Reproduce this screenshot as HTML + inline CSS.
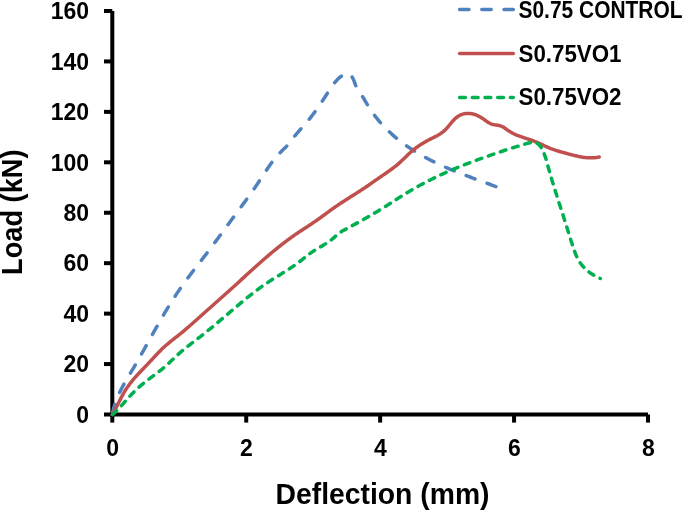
<!DOCTYPE html>
<html><head><meta charset="utf-8"><style>
html,body{margin:0;padding:0;background:#fff;overflow:hidden;}
svg{display:block;will-change:transform;filter:blur(0.4px);}
text{font-family:"Liberation Sans",sans-serif;font-weight:bold;fill:#000;}
</style></head><body>
<svg width="685" height="510" viewBox="0 0 685 510">
<g stroke="#000" stroke-width="4.0" fill="none">
<line x1="112.3" y1="11" x2="112.3" y2="416.5"/>
<line x1="110.3" y1="414.5" x2="648" y2="414.5"/>
<line x1="104" y1="414.50" x2="112.30" y2="414.50"/><line x1="104" y1="364.06" x2="112.30" y2="364.06"/><line x1="104" y1="313.62" x2="112.30" y2="313.62"/><line x1="104" y1="263.19" x2="112.30" y2="263.19"/><line x1="104" y1="212.75" x2="112.30" y2="212.75"/><line x1="104" y1="162.31" x2="112.30" y2="162.31"/><line x1="104" y1="111.87" x2="112.30" y2="111.87"/><line x1="104" y1="61.43" x2="112.30" y2="61.43"/><line x1="104" y1="11.00" x2="112.30" y2="11.00"/><line x1="112.30" y1="414.50" x2="112.30" y2="422.6"/><line x1="246.22" y1="414.50" x2="246.22" y2="422.6"/><line x1="380.14" y1="414.50" x2="380.14" y2="422.6"/><line x1="514.06" y1="414.50" x2="514.06" y2="422.6"/><line x1="647.98" y1="414.50" x2="647.98" y2="422.6"/>
</g>
<g fill="none" stroke-width="3.5" stroke-linejoin="round" stroke-linecap="round">
<path d="M112.40,414.50 L112.63,413.02 L112.90,411.54 L113.21,410.07 L113.56,408.61 L113.93,407.16 L114.35,405.71 L114.79,404.28 L115.26,402.85 L115.76,401.44 L116.29,400.03 L116.84,398.64 L117.42,397.25 L118.01,395.87 L118.63,394.50 L119.27,393.14 L119.92,391.79 L120.59,390.45 L121.28,389.11 L121.98,387.79 L122.69,386.46 L123.41,385.15 L124.15,383.84 L124.89,382.53 L125.64,381.23 L126.39,379.93 L127.15,378.64 L127.92,377.35 L128.69,376.06 L129.46,374.77 L130.23,373.48 L131.00,372.19 L131.77,370.90 L132.54,369.61 L133.30,368.32 L134.06,367.03 L134.82,365.73 L135.58,364.43 L136.33,363.14 L137.08,361.83 L137.83,360.53 L138.57,359.23 L139.31,357.92 L140.06,356.62 L140.79,355.31 L141.53,354.00 L142.27,352.69 L143.00,351.39 L143.74,350.08 L144.47,348.76 L145.20,347.45 L145.93,346.14 L146.66,344.83 L147.39,343.52 L148.12,342.21 L148.85,340.89 L149.58,339.58 L150.31,338.27 L151.03,336.96 L151.76,335.64 L152.50,334.33 L153.23,333.02 L153.96,331.71 L154.69,330.40 L155.43,329.09 L156.16,327.78 L156.90,326.48 L157.64,325.17 L158.38,323.86 L159.13,322.56 L159.87,321.26 L160.62,319.95 L161.37,318.65 L162.12,317.36 L162.88,316.06 L163.64,314.76 L164.40,313.47 L165.17,312.18 L165.94,310.89 L166.71,309.60 L167.48,308.32 L168.26,307.03 L169.05,305.75 L169.84,304.47 L170.63,303.20 L171.42,301.93 L172.23,300.66 L173.03,299.39 L173.84,298.13 L174.66,296.87 L175.48,295.61 L176.30,294.35 L177.14,293.10 L177.97,291.86 L178.82,290.62 L179.66,289.38 L180.52,288.14 L181.38,286.91 L182.25,285.69 L183.12,284.46 L183.99,283.24 L184.87,282.03 L185.76,280.82 L186.65,279.61 L187.54,278.40 L188.44,277.20 L189.34,275.99 L190.24,274.80 L191.15,273.60 L192.06,272.40 L192.97,271.21 L193.88,270.02 L194.79,268.83 L195.71,267.64 L196.63,266.45 L197.54,265.26 L198.46,264.07 L199.38,262.88 L200.30,261.70 L201.22,260.51 L202.14,259.32 L203.05,258.13 L203.97,256.94 L204.88,255.75 L205.80,254.56 L206.71,253.37 L207.62,252.17 L208.52,250.97 L209.43,249.78 L210.33,248.58 L211.23,247.38 L212.13,246.18 L213.03,244.97 L213.93,243.77 L214.82,242.56 L215.72,241.36 L216.61,240.15 L217.50,238.94 L218.39,237.73 L219.28,236.53 L220.17,235.32 L221.06,234.11 L221.95,232.90 L222.84,231.68 L223.73,230.47 L224.61,229.26 L225.50,228.05 L226.39,226.84 L227.27,225.63 L228.16,224.42 L229.05,223.21 L229.94,222.00 L230.83,220.79 L231.71,219.58 L232.60,218.37 L233.50,217.16 L234.39,215.95 L235.28,214.74 L236.17,213.54 L237.06,212.33 L237.96,211.12 L238.85,209.91 L239.74,208.71 L240.63,207.50 L241.52,206.29 L242.41,205.08 L243.30,203.87 L244.19,202.66 L245.07,201.45 L245.96,200.23 L246.84,199.02 L247.72,197.80 L248.59,196.58 L249.47,195.36 L250.34,194.14 L251.21,192.91 L252.07,191.68 L252.93,190.46 L253.79,189.22 L254.65,187.99 L255.50,186.75 L256.34,185.51 L257.18,184.27 L258.02,183.02 L258.85,181.77 L259.68,180.52 L260.50,179.26 L261.32,178.00 L262.13,176.74 L262.95,175.48 L263.77,174.22 L264.59,172.96 L265.41,171.71 L266.24,170.45 L267.07,169.21 L267.91,167.96 L268.76,166.73 L269.62,165.49 L270.49,164.27 L271.38,163.06 L272.27,161.85 L273.19,160.66 L274.11,159.48 L275.06,158.31 L276.02,157.16 L277.00,156.03 L278.00,154.91 L279.03,153.81 L280.07,152.73 L281.13,151.67 L282.20,150.61 L283.28,149.57 L284.35,148.51 L285.40,147.45 L286.44,146.36 L287.45,145.25 L288.43,144.11 L289.38,142.95 L290.31,141.77 L291.23,140.59 L292.15,139.40 L293.07,138.21 L293.99,137.02 L294.92,135.85 L295.87,134.69 L296.83,133.53 L297.81,132.39 L298.79,131.25 L299.77,130.12 L300.76,128.99 L301.76,127.87 L302.75,126.74 L303.75,125.62 L304.74,124.49 L305.73,123.36 L306.71,122.23 L307.69,121.09 L308.65,119.94 L309.61,118.78 L310.55,117.61 L311.48,116.43 L312.39,115.24 L313.30,114.04 L314.20,112.84 L315.08,111.63 L315.96,110.41 L316.83,109.18 L317.69,107.95 L318.54,106.72 L319.38,105.47 L320.22,104.23 L321.05,102.98 L321.88,101.73 L322.70,100.47 L323.52,99.21 L324.34,97.95 L325.15,96.69 L325.96,95.43 L326.77,94.16 L327.58,92.90 L328.39,91.63 L329.21,90.37 L330.03,89.12 L330.87,87.87 L331.72,86.64 L332.59,85.41 L333.49,84.21 L334.41,83.02 L335.36,81.86 L336.35,80.73 L337.37,79.63 L338.43,78.57 L339.53,77.55 L340.68,76.58 L341.87,75.66 L343.11,74.82 L344.42,74.10 L345.84,73.61 L347.33,73.53 L348.77,73.94 L350.06,74.71 L351.15,75.73 L352.06,76.93 L352.82,78.22 L353.46,79.58 L354.02,80.97 L354.55,82.38 L355.06,83.79 L355.60,85.19 L356.19,86.57 L356.85,87.92 L357.58,89.23 L358.37,90.51 L359.19,91.76 L360.05,93.00 L360.91,94.22 L361.77,95.45 L362.61,96.70 L363.42,97.96 L364.20,99.25 L364.96,100.54 L365.72,101.84 L366.47,103.14 L367.22,104.44 L368.00,105.72 L368.78,107.00 L369.59,108.27 L370.41,109.53 L371.25,110.77 L372.10,112.01 L372.97,113.23 L373.85,114.45 L374.75,115.65 L375.66,116.84 L376.59,118.02 L377.53,119.19 L378.49,120.35 L379.46,121.50 L380.44,122.63 L381.44,123.75 L382.45,124.86 L383.47,125.96 L384.50,127.05 L385.55,128.13 L386.61,129.19 L387.68,130.25 L388.76,131.29 L389.85,132.32 L390.95,133.34 L392.07,134.34 L393.19,135.34 L394.33,136.32 L395.47,137.30 L396.62,138.26 L397.79,139.21 L398.96,140.15 L400.14,141.07 L401.33,141.99 L402.52,142.90 L403.73,143.79 L404.94,144.67 L406.17,145.55 L407.39,146.41 L408.63,147.26 L409.87,148.10 L411.12,148.93 L412.38,149.75 L413.65,150.56 L414.92,151.36 L416.19,152.15 L417.48,152.93 L418.76,153.70 L420.06,154.46 L421.36,155.21 L422.67,155.95 L423.98,156.69 L425.29,157.41 L426.61,158.12 L427.94,158.83 L429.27,159.52 L430.61,160.21 L431.95,160.88 L433.29,161.55 L434.64,162.21 L435.99,162.87 L437.35,163.51 L438.70,164.15 L440.07,164.78 L441.43,165.41 L442.80,166.02 L444.17,166.63 L445.55,167.24 L446.93,167.83 L448.30,168.43 L449.69,169.01 L451.07,169.59 L452.46,170.17 L453.85,170.74 L455.24,171.30 L456.63,171.86 L458.03,172.42 L459.42,172.97 L460.82,173.52 L462.22,174.06 L463.62,174.60 L465.02,175.14 L466.43,175.67 L467.83,176.20 L469.24,176.73 L470.64,177.26 L472.05,177.78 L473.46,178.31 L474.86,178.83 L476.27,179.35 L477.68,179.86 L479.09,180.38 L480.50,180.90 L481.91,181.41 L483.32,181.93 L484.73,182.45 L486.14,182.96 L487.55,183.48 L488.96,184.00 L490.37,184.51 L491.78,185.03 L493.19,185.55 L494.59,186.08 L496.00,186.60" stroke="#4F81BD" stroke-dasharray="9.4 12.84" stroke-dashoffset="-1.0"/>
<path d="M112.40,414.50 L113.14,413.19 L113.87,411.88 L114.59,410.56 L115.29,409.23 L115.98,407.90 L116.67,406.56 L117.35,405.22 L118.02,403.88 L118.70,402.54 L119.38,401.20 L120.06,399.86 L120.75,398.52 L121.45,397.19 L122.16,395.87 L122.88,394.55 L123.62,393.24 L124.38,391.94 L125.15,390.66 L125.95,389.38 L126.77,388.12 L127.61,386.88 L128.48,385.65 L129.37,384.44 L130.27,383.24 L131.20,382.06 L132.15,380.89 L133.11,379.74 L134.08,378.59 L135.07,377.46 L136.07,376.34 L137.08,375.22 L138.09,374.12 L139.12,373.02 L140.15,371.93 L141.18,370.84 L142.22,369.75 L143.27,368.67 L144.31,367.59 L145.35,366.51 L146.40,365.43 L147.44,364.34 L148.48,363.26 L149.51,362.17 L150.54,361.07 L151.56,359.97 L152.58,358.87 L153.60,357.76 L154.62,356.66 L155.64,355.56 L156.66,354.46 L157.69,353.36 L158.73,352.28 L159.78,351.20 L160.84,350.14 L161.91,349.08 L163.00,348.05 L164.10,347.02 L165.22,346.02 L166.35,345.03 L167.49,344.06 L168.65,343.09 L169.81,342.14 L170.98,341.20 L172.15,340.26 L173.33,339.33 L174.51,338.40 L175.69,337.47 L176.88,336.54 L178.05,335.61 L179.23,334.68 L180.40,333.74 L181.57,332.79 L182.72,331.83 L183.88,330.87 L185.03,329.90 L186.17,328.93 L187.31,327.95 L188.45,326.96 L189.58,325.98 L190.71,324.99 L191.84,323.99 L192.96,322.99 L194.08,322.00 L195.20,321.00 L196.32,319.99 L197.44,318.99 L198.56,317.99 L199.68,316.98 L200.80,315.98 L201.92,314.98 L203.04,313.98 L204.16,312.98 L205.28,311.98 L206.41,310.98 L207.53,309.98 L208.65,308.99 L209.78,307.99 L210.90,307.00 L212.03,306.00 L213.16,305.01 L214.28,304.01 L215.41,303.02 L216.53,302.02 L217.66,301.02 L218.78,300.03 L219.91,299.03 L221.03,298.03 L222.16,297.04 L223.28,296.04 L224.40,295.04 L225.52,294.04 L226.64,293.04 L227.76,292.03 L228.88,291.03 L229.99,290.02 L231.11,289.02 L232.22,288.01 L233.33,287.00 L234.45,285.99 L235.56,284.98 L236.67,283.96 L237.78,282.95 L238.88,281.93 L239.99,280.92 L241.10,279.90 L242.21,278.89 L243.32,277.87 L244.42,276.86 L245.53,275.85 L246.64,274.83 L247.75,273.82 L248.86,272.81 L249.97,271.79 L251.08,270.78 L252.20,269.77 L253.31,268.76 L254.43,267.76 L255.54,266.75 L256.66,265.75 L257.78,264.75 L258.90,263.75 L260.03,262.75 L261.15,261.76 L262.28,260.76 L263.41,259.77 L264.54,258.79 L265.68,257.80 L266.82,256.82 L267.96,255.84 L269.10,254.87 L270.25,253.90 L271.40,252.93 L272.55,251.97 L273.71,251.01 L274.87,250.06 L276.04,249.11 L277.20,248.16 L278.38,247.22 L279.55,246.29 L280.73,245.36 L281.92,244.43 L283.10,243.51 L284.30,242.60 L285.49,241.69 L286.69,240.79 L287.90,239.89 L289.11,239.00 L290.33,238.12 L291.55,237.24 L292.77,236.37 L294.00,235.51 L295.24,234.66 L296.48,233.81 L297.73,232.97 L298.97,232.13 L300.23,231.30 L301.48,230.47 L302.74,229.65 L303.99,228.82 L305.25,228.00 L306.51,227.18 L307.76,226.35 L309.02,225.53 L310.27,224.70 L311.52,223.86 L312.76,223.02 L314.01,222.17 L315.24,221.32 L316.47,220.46 L317.70,219.60 L318.93,218.73 L320.15,217.85 L321.37,216.97 L322.58,216.09 L323.80,215.21 L325.01,214.32 L326.23,213.44 L327.44,212.55 L328.66,211.67 L329.87,210.78 L331.09,209.91 L332.31,209.03 L333.54,208.16 L334.77,207.30 L336.00,206.44 L337.24,205.59 L338.48,204.74 L339.73,203.91 L340.98,203.08 L342.24,202.25 L343.50,201.43 L344.76,200.62 L346.03,199.81 L347.29,199.00 L348.56,198.20 L349.83,197.39 L351.10,196.59 L352.37,195.79 L353.64,194.99 L354.91,194.18 L356.18,193.38 L357.45,192.57 L358.71,191.76 L359.97,190.94 L361.23,190.12 L362.49,189.30 L363.74,188.47 L364.99,187.63 L366.23,186.78 L367.47,185.94 L368.71,185.08 L369.94,184.23 L371.18,183.37 L372.41,182.51 L373.64,181.65 L374.87,180.79 L376.11,179.93 L377.34,179.07 L378.58,178.22 L379.81,177.37 L381.05,176.52 L382.29,175.67 L383.53,174.82 L384.78,173.98 L386.01,173.13 L387.25,172.27 L388.48,171.41 L389.71,170.54 L390.93,169.66 L392.14,168.77 L393.34,167.87 L394.53,166.95 L395.71,166.02 L396.87,165.07 L398.02,164.10 L399.15,163.12 L400.27,162.11 L401.37,161.09 L402.46,160.06 L403.55,159.02 L404.63,157.97 L405.71,156.93 L406.79,155.88 L407.87,154.84 L408.97,153.81 L410.07,152.80 L411.19,151.79 L412.32,150.81 L413.48,149.85 L414.65,148.91 L415.84,147.99 L417.05,147.10 L418.28,146.23 L419.52,145.38 L420.78,144.56 L422.05,143.76 L423.33,142.97 L424.62,142.21 L425.93,141.47 L427.25,140.74 L428.57,140.04 L429.91,139.35 L431.25,138.67 L432.59,138.00 L433.93,137.32 L435.27,136.63 L436.60,135.93 L437.91,135.20 L439.21,134.44 L440.48,133.64 L441.72,132.79 L442.92,131.89 L444.07,130.93 L445.17,129.90 L446.22,128.83 L447.22,127.71 L448.20,126.57 L449.16,125.41 L450.11,124.25 L451.07,123.09 L452.04,121.94 L453.04,120.82 L454.07,119.73 L455.14,118.67 L456.27,117.68 L457.45,116.76 L458.70,115.92 L460.02,115.21 L461.40,114.61 L462.83,114.14 L464.29,113.79 L465.77,113.56 L467.27,113.45 L468.77,113.44 L470.27,113.54 L471.76,113.75 L473.23,114.06 L474.68,114.47 L476.09,114.97 L477.47,115.55 L478.82,116.21 L480.14,116.94 L481.42,117.72 L482.67,118.55 L483.90,119.42 L485.12,120.29 L486.35,121.16 L487.60,122.00 L488.88,122.78 L490.21,123.48 L491.59,124.08 L493.02,124.53 L494.49,124.82 L495.98,125.04 L497.47,125.25 L498.94,125.53 L500.40,125.91 L501.81,126.41 L503.17,127.06 L504.45,127.85 L505.67,128.72 L506.88,129.61 L508.11,130.47 L509.36,131.30 L510.64,132.09 L511.94,132.84 L513.27,133.55 L514.62,134.21 L515.98,134.83 L517.37,135.41 L518.77,135.95 L520.18,136.47 L521.60,136.96 L523.03,137.43 L524.46,137.89 L525.89,138.35 L527.32,138.80 L528.75,139.26 L530.18,139.74 L531.60,140.22 L533.02,140.73 L534.42,141.27 L535.81,141.83 L537.19,142.43 L538.56,143.04 L539.93,143.67 L541.29,144.31 L542.65,144.95 L544.00,145.60 L545.36,146.23 L546.73,146.86 L548.10,147.47 L549.49,148.05 L550.88,148.61 L552.29,149.14 L553.70,149.65 L555.13,150.13 L556.56,150.59 L557.99,151.03 L559.43,151.46 L560.88,151.87 L562.33,152.27 L563.77,152.67 L565.23,153.06 L566.68,153.45 L568.13,153.84 L569.58,154.23 L571.03,154.62 L572.48,155.00 L573.94,155.37 L575.40,155.72 L576.86,156.07 L578.33,156.39 L579.80,156.69 L581.28,156.96 L582.76,157.20 L584.25,157.41 L585.74,157.58 L587.24,157.71 L588.74,157.80 L590.24,157.85 L591.75,157.84 L593.25,157.78 L594.74,157.67 L596.24,157.50 L597.72,157.28 L599.20,157.00" stroke="#C0504D"/>
<path d="M112.40,414.70 L113.52,413.70 L114.62,412.67 L115.71,411.63 L116.77,410.58 L117.83,409.50 L118.87,408.42 L119.89,407.32 L120.91,406.21 L121.92,405.10 L122.93,403.98 L123.93,402.86 L124.92,401.73 L125.92,400.61 L126.92,399.48 L127.92,398.36 L128.92,397.24 L129.93,396.13 L130.95,395.03 L131.98,393.93 L133.02,392.85 L134.08,391.78 L135.15,390.72 L136.24,389.68 L137.34,388.66 L138.45,387.65 L139.57,386.65 L140.71,385.67 L141.86,384.70 L143.02,383.74 L144.18,382.79 L145.36,381.86 L146.54,380.93 L147.73,380.01 L148.93,379.10 L150.13,378.19 L151.33,377.30 L152.54,376.40 L153.75,375.51 L154.96,374.61 L156.16,373.71 L157.36,372.81 L158.56,371.90 L159.75,370.98 L160.93,370.05 L162.10,369.11 L163.26,368.15 L164.41,367.18 L165.54,366.19 L166.66,365.19 L167.76,364.17 L168.86,363.14 L169.95,362.11 L171.04,361.07 L172.13,360.03 L173.21,358.99 L174.30,357.95 L175.39,356.92 L176.49,355.89 L177.59,354.87 L178.71,353.87 L179.84,352.87 L180.97,351.89 L182.12,350.92 L183.28,349.96 L184.44,349.01 L185.61,348.06 L186.79,347.13 L187.97,346.20 L189.15,345.27 L190.34,344.35 L191.53,343.44 L192.73,342.52 L193.92,341.61 L195.11,340.69 L196.30,339.78 L197.50,338.86 L198.68,337.94 L199.87,337.01 L201.05,336.09 L202.23,335.15 L203.41,334.22 L204.58,333.28 L205.75,332.34 L206.92,331.40 L208.09,330.45 L209.26,329.50 L210.42,328.55 L211.58,327.59 L212.74,326.64 L213.90,325.68 L215.06,324.72 L216.21,323.76 L217.36,322.79 L218.52,321.83 L219.67,320.86 L220.82,319.89 L221.97,318.92 L223.11,317.95 L224.26,316.98 L225.41,316.01 L226.55,315.03 L227.70,314.06 L228.84,313.09 L229.99,312.11 L231.13,311.14 L232.28,310.16 L233.42,309.19 L234.57,308.22 L235.72,307.25 L236.86,306.28 L238.01,305.31 L239.16,304.34 L240.32,303.38 L241.47,302.41 L242.63,301.45 L243.79,300.50 L244.95,299.54 L246.12,298.59 L247.28,297.65 L248.46,296.71 L249.63,295.77 L250.81,294.84 L251.99,293.91 L253.18,292.99 L254.37,292.07 L255.57,291.16 L256.77,290.25 L257.97,289.36 L259.18,288.46 L260.40,287.58 L261.62,286.70 L262.84,285.83 L264.08,284.97 L265.31,284.12 L266.56,283.28 L267.81,282.44 L269.06,281.61 L270.33,280.80 L271.59,279.98 L272.86,279.18 L274.13,278.38 L275.40,277.58 L276.68,276.78 L277.96,275.99 L279.23,275.20 L280.51,274.41 L281.79,273.61 L283.07,272.82 L284.34,272.02 L285.61,271.22 L286.88,270.42 L288.15,269.60 L289.41,268.79 L290.66,267.96 L291.92,267.13 L293.16,266.29 L294.40,265.43 L295.63,264.57 L296.85,263.69 L298.06,262.81 L299.27,261.90 L300.46,260.99 L301.64,260.06 L302.82,259.13 L304.00,258.20 L305.18,257.26 L306.36,256.33 L307.54,255.40 L308.73,254.49 L309.93,253.58 L311.15,252.70 L312.37,251.83 L313.62,250.98 L314.88,250.16 L316.15,249.37 L317.45,248.60 L318.74,247.85 L320.05,247.10 L321.36,246.36 L322.66,245.61 L323.96,244.85 L325.25,244.08 L326.52,243.29 L327.78,242.46 L329.02,241.61 L330.23,240.72 L331.41,239.78 L332.56,238.81 L333.69,237.83 L334.82,236.83 L335.95,235.84 L337.09,234.86 L338.25,233.91 L339.44,232.99 L340.67,232.13 L341.94,231.33 L343.24,230.57 L344.56,229.85 L345.88,229.13 L347.21,228.42 L348.53,227.71 L349.85,226.99 L351.17,226.27 L352.49,225.55 L353.81,224.83 L355.13,224.11 L356.44,223.38 L357.76,222.66 L359.08,221.93 L360.39,221.20 L361.70,220.47 L363.01,219.73 L364.33,219.00 L365.64,218.26 L366.94,217.52 L368.25,216.78 L369.55,216.03 L370.86,215.28 L372.16,214.53 L373.46,213.77 L374.75,213.01 L376.04,212.24 L377.33,211.47 L378.62,210.69 L379.90,209.91 L381.18,209.12 L382.46,208.32 L383.73,207.53 L385.00,206.72 L386.27,205.92 L387.54,205.11 L388.81,204.30 L390.07,203.49 L391.34,202.68 L392.60,201.86 L393.86,201.05 L395.13,200.24 L396.39,199.42 L397.66,198.61 L398.93,197.80 L400.20,197.00 L401.47,196.20 L402.74,195.40 L404.02,194.60 L405.30,193.81 L406.58,193.03 L407.87,192.25 L409.16,191.48 L410.45,190.72 L411.75,189.96 L413.05,189.20 L414.35,188.46 L415.66,187.71 L416.97,186.98 L418.28,186.25 L419.60,185.52 L420.92,184.81 L422.24,184.09 L423.57,183.39 L424.90,182.69 L426.23,181.99 L427.57,181.30 L428.91,180.62 L430.25,179.94 L431.59,179.27 L432.94,178.60 L434.29,177.94 L435.64,177.28 L437.00,176.63 L438.35,175.98 L439.71,175.34 L441.08,174.71 L442.44,174.08 L443.81,173.45 L445.18,172.83 L446.55,172.22 L447.93,171.61 L449.30,171.01 L450.68,170.41 L452.06,169.81 L453.44,169.22 L454.83,168.64 L456.22,168.06 L457.61,167.49 L459.00,166.92 L460.39,166.35 L461.78,165.79 L463.18,165.24 L464.58,164.69 L465.98,164.14 L467.38,163.60 L468.79,163.07 L470.19,162.53 L471.60,162.01 L473.01,161.48 L474.42,160.97 L475.83,160.45 L477.25,159.94 L478.66,159.44 L480.08,158.93 L481.50,158.43 L482.92,157.93 L484.33,157.44 L485.75,156.94 L487.17,156.45 L488.59,155.95 L490.01,155.46 L491.43,154.96 L492.85,154.46 L494.27,153.96 L495.69,153.46 L497.10,152.97 L498.52,152.47 L499.94,151.97 L501.36,151.48 L502.78,150.99 L504.21,150.51 L505.63,150.03 L507.06,149.56 L508.49,149.09 L509.92,148.64 L511.35,148.19 L512.79,147.75 L514.23,147.32 L515.67,146.89 L517.11,146.46 L518.56,146.04 L520.00,145.61 L521.44,145.18 L522.88,144.75 L524.31,144.31 L525.75,143.86 L527.19,143.43 L528.64,143.04 L530.11,142.72 L531.60,142.50 L533.10,142.43 L534.59,142.56 L536.05,142.93 L537.41,143.55 L538.64,144.41 L539.69,145.48 L540.59,146.69 L541.39,147.96 L542.13,149.27 L542.81,150.61 L543.44,151.97 L544.02,153.36 L544.56,154.76 L545.06,156.18 L545.53,157.61 L545.98,159.04 L546.40,160.49 L546.81,161.93 L547.21,163.38 L547.60,164.83 L547.99,166.28 L548.39,167.73 L548.80,169.18 L549.21,170.63 L549.62,172.07 L550.03,173.52 L550.45,174.96 L550.87,176.40 L551.30,177.84 L551.73,179.29 L552.16,180.73 L552.60,182.16 L553.03,183.60 L553.47,185.04 L553.91,186.48 L554.36,187.91 L554.81,189.35 L555.25,190.78 L555.70,192.22 L556.16,193.65 L556.61,195.08 L557.06,196.52 L557.52,197.95 L557.97,199.38 L558.43,200.81 L558.89,202.24 L559.35,203.68 L559.81,205.11 L560.27,206.54 L560.73,207.97 L561.19,209.40 L561.65,210.83 L562.10,212.26 L562.56,213.70 L563.02,215.13 L563.48,216.56 L563.93,217.99 L564.39,219.42 L564.84,220.86 L565.29,222.29 L565.75,223.73 L566.20,225.16 L566.65,226.59 L567.09,228.03 L567.54,229.46 L567.99,230.90 L568.44,232.33 L568.89,233.77 L569.34,235.20 L569.79,236.63 L570.24,238.07 L570.69,239.50 L571.15,240.94 L571.60,242.37 L572.06,243.80 L572.51,245.23 L572.98,246.66 L573.45,248.09 L573.93,249.51 L574.43,250.93 L574.95,252.34 L575.49,253.74 L576.07,255.13 L576.67,256.51 L577.32,257.87 L578.01,259.20 L578.74,260.51 L579.52,261.80 L580.36,263.05 L581.25,264.26 L582.18,265.44 L583.16,266.57 L584.19,267.67 L585.25,268.74 L586.35,269.76 L587.49,270.75 L588.66,271.69 L589.85,272.60 L591.08,273.47 L592.33,274.31 L593.60,275.10 L594.90,275.86 L596.22,276.58 L597.56,277.26 L598.92,277.90 L600.30,278.50" stroke="#00B050" stroke-dasharray="5.8 6.97"/>
</g>
<g font-size="23px">
<text x="89" y="422.80" text-anchor="end">0</text><text x="89" y="372.36" text-anchor="end">20</text><text x="89" y="321.92" text-anchor="end">40</text><text x="89" y="271.49" text-anchor="end">60</text><text x="89" y="221.05" text-anchor="end">80</text><text x="89" y="170.61" text-anchor="end">100</text><text x="89" y="120.17" text-anchor="end">120</text><text x="89" y="69.73" text-anchor="end">140</text><text x="89" y="19.30" text-anchor="end">160</text>
<text x="112.60" y="455.8" text-anchor="middle">0</text><text x="246.52" y="455.8" text-anchor="middle">2</text><text x="380.44" y="455.8" text-anchor="middle">4</text><text x="514.36" y="455.8" text-anchor="middle">6</text><text x="648.28" y="455.8" text-anchor="middle">8</text>
</g>
<text x="275.5" y="503.6" font-size="28.8px" textLength="214" lengthAdjust="spacingAndGlyphs">Deflection (mm)</text>
<text transform="translate(22,275) rotate(-90)" x="0" y="0" font-size="29px" textLength="125.5" lengthAdjust="spacingAndGlyphs">Load (kN)</text>
<g fill="none" stroke-width="3.5" stroke-linecap="round">
<line x1="459.6" y1="9.6" x2="513.3" y2="9.6" stroke="#4F81BD" stroke-dasharray="9.4 12.8"/>
<line x1="459.6" y1="53.5" x2="513.3" y2="53.5" stroke="#C0504D"/>
<line x1="459.6" y1="97.6" x2="513.3" y2="97.6" stroke="#00B050" stroke-dasharray="5.8 6.9"/>
</g>
<g font-size="23.2px">
<text x="518.5" y="17.7" textLength="164" lengthAdjust="spacingAndGlyphs">S0.75 CONTROL</text>
<text x="518.5" y="61.5" textLength="103" lengthAdjust="spacingAndGlyphs">S0.75VO1</text>
<text x="518.5" y="105.3" textLength="103" lengthAdjust="spacingAndGlyphs">S0.75VO2</text>
</g>
</svg>
</body></html>
